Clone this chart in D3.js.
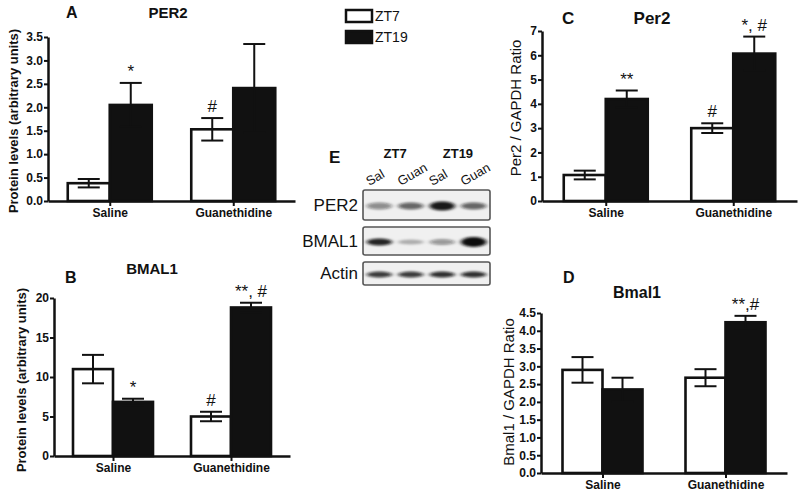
<!DOCTYPE html>
<html>
<head>
<meta charset="utf-8">
<script src="https://cdn.jsdelivr.net/npm/d3@7/dist/d3.min.js"></script>
<style>
  html, body { margin: 0; padding: 0; background: #fff; }
  svg { display: block; font-family: "Liberation Sans", Arial, Helvetica, sans-serif; }
</style>
</head>
<body>
<svg id="chart" width="800" height="496"></svg>
<script>
// ---------- DATA ----------
const categories = ["Saline", "Guanethidine"];
const seriesNames = ["ZT7", "ZT19"];

// Panel A: PER2 protein levels
const aZT7 = [0.38, 1.53];
const aZT7Err = [0.09, 0.24];
const aZT19 = [2.05, 2.41];
const aZT19Err = [0.47, 0.94];
const aZT7Marks = ["", "#"];
const aZT19Marks = ["*", ""];
const aTicks = [0, 0.5, 1.0, 1.5, 2.0, 2.5, 3.0, 3.5];

// Panel B: BMAL1 protein levels
const bZT7 = [11.0, 5.0];
const bZT7Err = [1.8, 0.6];
const bZT19 = [6.85, 18.8];
const bZT19Err = [0.4, 0.6];
const bZT7Marks = ["", "#"];
const bZT19Marks = ["*", "**, #"];
const bTicks = [0, 5, 10, 15, 20];

// Panel C: Per2 / GAPDH ratio
const cZT7 = [1.07, 3.0];
const cZT7Err = [0.18, 0.2];
const cZT19 = [4.2, 6.07];
const cZT19Err = [0.35, 0.7];
const cZT7Marks = ["", "#"];
const cZT19Marks = ["**", "*, #"];
const cTicks = [0, 1, 2, 3, 4, 5, 6, 7];

// Panel D: Bmal1 / GAPDH ratio
const dZT7 = [2.9, 2.68];
const dZT7Err = [0.36, 0.24];
const dZT19 = [2.35, 4.24];
const dZT19Err = [0.33, 0.18];
const dZT7Marks = ["", ""];
const dZT19Marks = ["", "**,#"];
const dTicks = [0, 0.5, 1.0, 1.5, 2.0, 2.5, 3.0, 3.5, 4.0, 4.5];

// Panel E: western blot (relative band darkness per lane)
const blotRows = ["PER2", "BMAL1", "Actin"];
const blotGroups = ["ZT7", "ZT19"];
const blotLanes = ["Sal", "Guan", "Sal", "Guan"];
const per2Bands = [0.45, 0.62, 0.95, 0.62];
const bmal1Bands = [0.9, 0.28, 0.4, 1.0];
const actinBands = [0.8, 0.8, 0.85, 0.85];

// ---------- DRAW ----------
const svg = d3.select("#chart");
const INK = "#111";

svg.append("defs").append("filter").attr("id", "blur")
  .attr("x", "-30%").attr("y", "-100%").attr("width", "160%").attr("height", "300%")
  .append("feGaussianBlur").attr("stdDeviation", "2.2 1.3");

function drawPanel(cfg) {
  const g = svg.append("g");
  const y = d3.scaleLinear().domain([0, cfg.max]).range([cfg.y1, cfg.y0]);
  const x = d3.scalePoint().domain(categories).range([cfg.x0, cfg.x1]).padding(0.5);

  const series = [
    {name: seriesNames[0], vals: cfg.z7, err: cfg.z7e, marks: cfg.z7m, fill: "#fff", off: -1},
    {name: seriesNames[1], vals: cfg.z19, err: cfg.z19e, marks: cfg.z19m, fill: INK, off: 0}
  ];
  const bw = cfg.bw;

  series.forEach(s => {
    const data = categories.map((c, i) => ({c, v: s.vals[i], e: s.err[i], m: s.marks[i]}));
    g.selectAll(null).data(data).join("rect")
      .attr("x", d => x(d.c) + s.off * bw)
      .attr("y", d => y(d.v))
      .attr("width", bw)
      .attr("height", d => y(0) - y(d.v))
      .attr("fill", s.fill)
      .attr("stroke", INK)
      .attr("stroke-width", 2.6);
    const cx = d => x(d.c) + s.off * bw + bw / 2;
    g.selectAll(null).data(data).join("line")
      .attr("x1", cx).attr("x2", cx)
      .attr("y1", d => y(d.v + d.e)).attr("y2", d => y(d.v - d.e))
      .attr("stroke", INK).attr("stroke-width", 2);
    g.selectAll(null).data(data).join("line")
      .attr("x1", d => cx(d) - 11).attr("x2", d => cx(d) + 11)
      .attr("y1", d => y(d.v + d.e)).attr("y2", d => y(d.v + d.e))
      .attr("stroke", INK).attr("stroke-width", 2);
    g.selectAll(null).data(data).join("line")
      .attr("x1", d => cx(d) - 11).attr("x2", d => cx(d) + 11)
      .attr("y1", d => y(d.v - d.e)).attr("y2", d => y(d.v - d.e))
      .attr("stroke", INK).attr("stroke-width", 2);
    g.selectAll(null).data(data.filter(d => d.m)).join("text")
      .attr("x", cx)
      .attr("y", d => y(d.v + d.e) - 6)
      .attr("text-anchor", "middle")
      .attr("font-size", 17)
      .attr("fill", INK)
      .text(d => d.m);
  });

  const yAxis = d3.axisLeft(y).tickValues(cfg.ticks).tickSize(4).tickSizeOuter(0)
    .tickFormat(cfg.fmt ? d3.format(cfg.fmt) : d3.format("d"));
  const ya = g.append("g").attr("transform", `translate(${cfg.x0},0)`).call(yAxis);
  ya.select(".domain").attr("stroke", INK).attr("stroke-width", 2.5);
  ya.selectAll(".tick line").attr("stroke", INK).attr("stroke-width", 2);
  ya.selectAll(".tick text").attr("font-size", 12).attr("font-weight", "bold")
    .attr("font-family", "'Liberation Sans', Arial, sans-serif").attr("fill", INK).attr("x", -5);

  const xAxis = d3.axisBottom(x).tickSize(5).tickSizeOuter(0);
  const xa = g.append("g").attr("transform", `translate(0,${cfg.y1})`).call(xAxis);
  xa.select(".domain").attr("stroke", INK).attr("stroke-width", 2.5);
  xa.selectAll(".tick line").attr("stroke", INK).attr("stroke-width", 2);
  xa.selectAll(".tick text").attr("font-size", 12).attr("font-weight", "bold")
    .attr("font-family", "'Liberation Sans', Arial, sans-serif").attr("fill", INK)
    .attr("y", 7).attr("dy", "0.71em");

  g.append("text").attr("x", cfg.titleX).attr("y", cfg.titleY).attr("text-anchor", "middle")
    .attr("font-size", cfg.titleSize).attr("font-weight", "bold").attr("fill", INK).text(cfg.title);
  g.append("text").attr("x", cfg.letterX).attr("y", cfg.letterY)
    .attr("font-size", cfg.letterSize).attr("font-weight", "bold").attr("fill", INK).text(cfg.letter);
  g.append("text")
    .attr("transform", `translate(${cfg.labX},${cfg.labY}) rotate(-90)`)
    .attr("text-anchor", "middle")
    .attr("font-size", cfg.labSize)
    .attr("font-weight", cfg.labWeight)
    .attr("fill", INK)
    .text(cfg.ylabel);
}

drawPanel({x0: 48, x1: 295, y0: 37, y1: 201, max: 3.5, bw: 42,
  z7: aZT7, z7e: aZT7Err, z19: aZT19, z19e: aZT19Err, z7m: aZT7Marks, z19m: aZT19Marks,
  ticks: aTicks, fmt: ".1f",
  title: "PER2", titleX: 168, titleY: 18, titleSize: 15,
  letter: "A", letterX: 66, letterY: 18, letterSize: 16,
  ylabel: "Protein levels (arbitrary units)", labX: 18, labY: 121, labSize: 13, labWeight: "bold"});

drawPanel({x0: 54, x1: 290, y0: 298, y1: 456, max: 20, bw: 40,
  z7: bZT7, z7e: bZT7Err, z19: bZT19, z19e: bZT19Err, z7m: bZT7Marks, z19m: bZT19Marks,
  ticks: bTicks, fmt: null,
  title: "BMAL1", titleX: 152, titleY: 274, titleSize: 15,
  letter: "B", letterX: 65, letterY: 283, letterSize: 16,
  ylabel: "Protein levels (arbitrary units)", labX: 26, labY: 380, labSize: 13, labWeight: "bold"});

drawPanel({x0: 542, x1: 797, y0: 31, y1: 201, max: 7, bw: 42,
  z7: cZT7, z7e: cZT7Err, z19: cZT19, z19e: cZT19Err, z7m: cZT7Marks, z19m: cZT19Marks,
  ticks: cTicks, fmt: null,
  title: "Per2", titleX: 652, titleY: 24, titleSize: 17,
  letter: "C", letterX: 562, letterY: 24, letterSize: 17,
  ylabel: "Per2 / GAPDH Ratio", labX: 521, labY: 108, labSize: 15, labWeight: "normal"});

drawPanel({x0: 541, x1: 787, y0: 313, y1: 473, max: 4.5, bw: 40,
  z7: dZT7, z7e: dZT7Err, z19: dZT19, z19e: dZT19Err, z7m: dZT7Marks, z19m: dZT19Marks,
  ticks: dTicks, fmt: ".1f",
  title: "Bmal1", titleX: 637, titleY: 298, titleSize: 16,
  letter: "D", letterX: 563, letterY: 283, letterSize: 16,
  ylabel: "Bmal1 / GAPDH Ratio", labX: 514, labY: 392, labSize: 15, labWeight: "normal"});

// ---------- Legend ----------
const leg = svg.append("g");
seriesNames.forEach((n, i) => {
  leg.append("rect").attr("x", 346).attr("y", 10 + i * 21).attr("width", 26).attr("height", 12)
    .attr("fill", i === 0 ? "#fff" : INK).attr("stroke", INK).attr("stroke-width", 2.5);
  leg.append("text").attr("x", 375).attr("y", 21 + i * 21).attr("font-size", 14).attr("fill", INK).text(n);
});

// ---------- Panel E: blot ----------
const eg = svg.append("g");
const laneX = d3.scaleBand().domain(d3.range(blotLanes.length)).range([363, 490]).paddingInner(0.06).paddingOuter(0.05);
eg.append("text").attr("x", 329).attr("y", 163).attr("font-size", 17).attr("font-weight", "bold").attr("fill", INK).text("E");
blotGroups.forEach((gname, i) => {
  const cx = (laneX(i * 2) + laneX(i * 2 + 1) + laneX.bandwidth()) / 2;
  eg.append("text").attr("x", cx).attr("y", 158).attr("text-anchor", "middle")
    .attr("font-size", 13).attr("font-weight", "bold").attr("fill", INK).text(gname);
});
blotLanes.forEach((ln, i) => {
  const cx = laneX(i) + laneX.bandwidth() / 2;
  eg.append("text").attr("transform", `translate(${cx - 10},${186}) rotate(-30)`)
    .attr("font-size", 13).attr("fill", INK).text(ln);
});
const rowBoxes = [
  {name: blotRows[0], y: 190, h: 30, bands: per2Bands, bh: [6, 6, 8, 6]},
  {name: blotRows[1], y: 227, h: 28, bands: bmal1Bands, bh: [6, 4, 5, 9]},
  {name: blotRows[2], y: 262, h: 23, bands: actinBands, bh: [5, 5, 5, 5]}
];
rowBoxes.forEach(r => {
  eg.append("rect").attr("x", 363).attr("y", r.y).attr("width", 127).attr("height", r.h)
    .attr("rx", 2).attr("fill", "#f0f0f0").attr("stroke", "#555").attr("stroke-width", 1.6);
  const bg = eg.append("g").attr("filter", "url(#blur)");
  bg.selectAll(null).data(r.bands).join("ellipse")
    .attr("cx", (d, i) => laneX(i) + laneX.bandwidth() / 2)
    .attr("cy", r.y + r.h / 2 + 1)
    .attr("rx", laneX.bandwidth() / 2 - 2)
    .attr("ry", (d, i) => r.bh[i] / 2 + 0.5)
    .attr("fill", "#111")
    .attr("opacity", d => d);
  eg.append("text").attr("x", 358).attr("y", r.y + r.h / 2).attr("dy", "0.35em")
    .attr("text-anchor", "end").attr("font-size", 17).attr("fill", INK).text(r.name);
});
</script>
</body>
</html>
